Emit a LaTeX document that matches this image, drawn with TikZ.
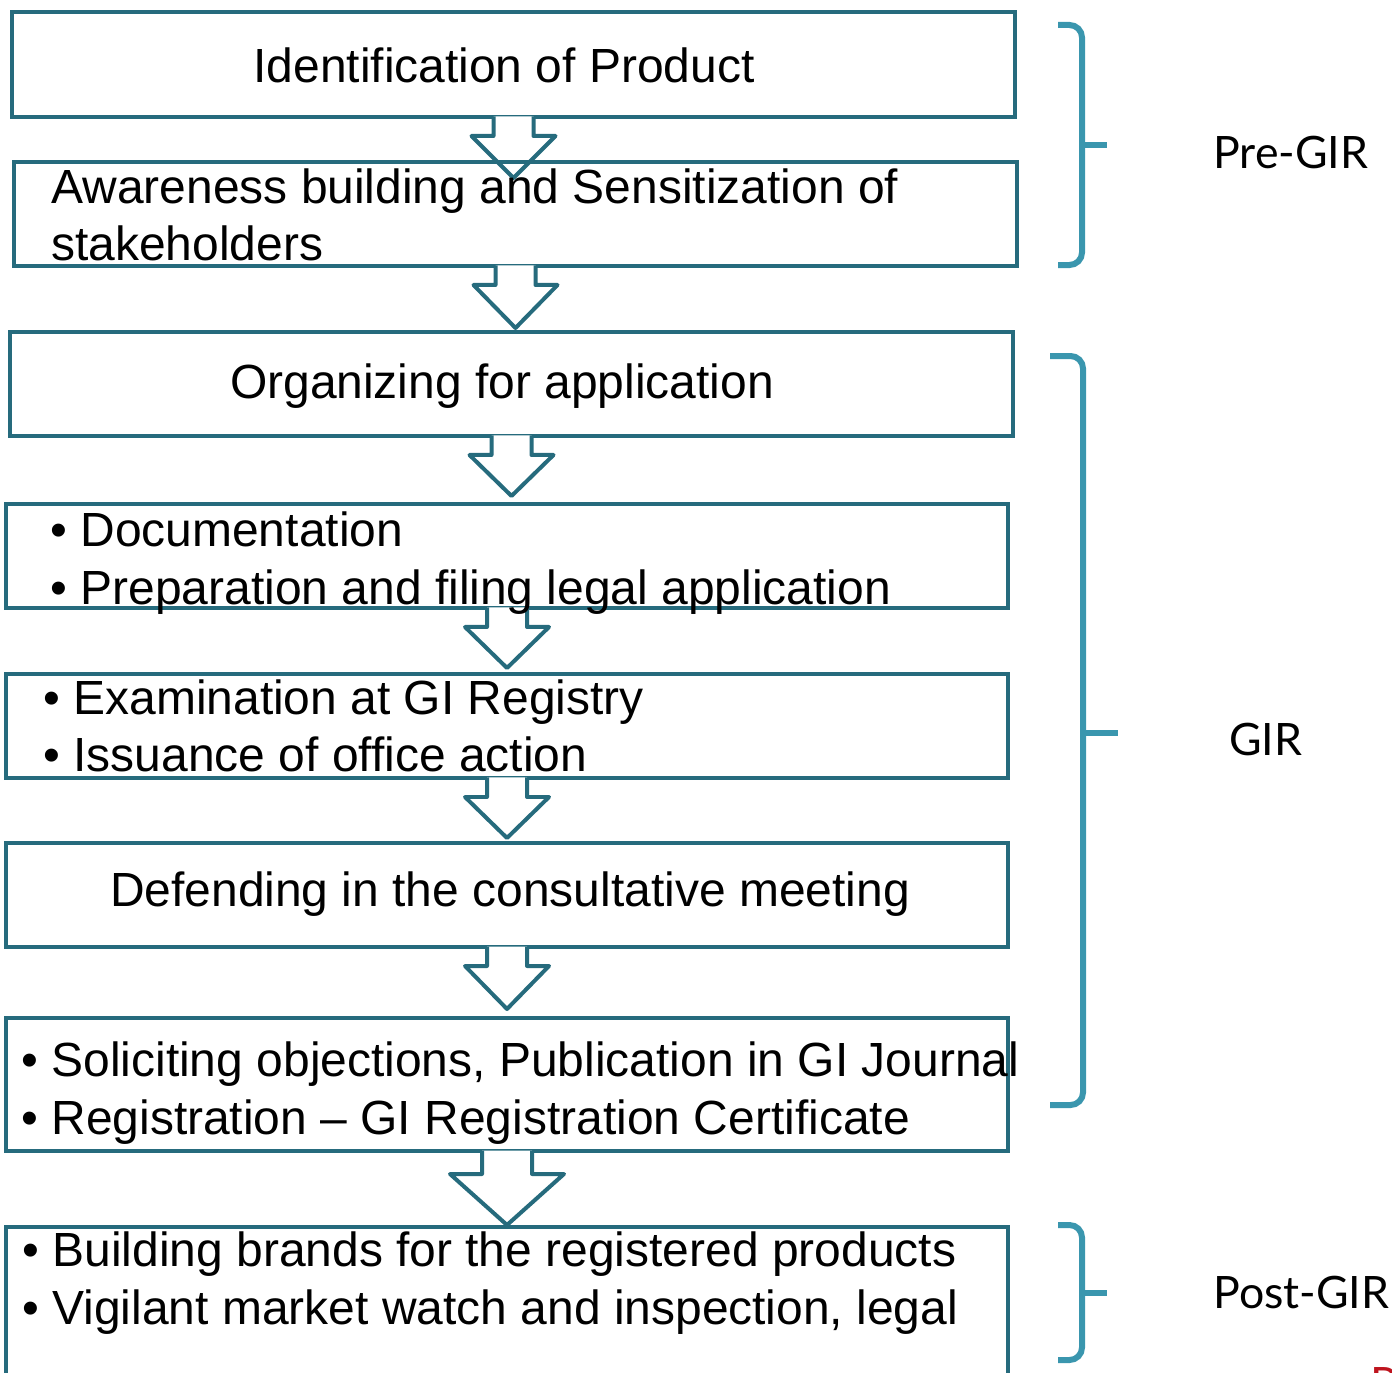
\documentclass[tikz,border=0pt]{standalone}
\usepackage{fontspec}
\usepackage{tikz}
\usetikzlibrary{positioning}

\newfontfamily\boxfont{Liberation Sans}
\newfontfamily\phasefont{Lato}

\definecolor{boxline}{RGB}{38,107,125}
\definecolor{braceline}{RGB}{58,150,174}
\definecolor{pagered}{RGB}{190,20,30}

\tikzset{
  box/.style={draw=boxline, line width=0.08cm, minimum width=20.06cm, minimum height=2.08cm, inner sep=0pt},
  txt/.style={font={\boxfont\fontsize{27.3}{32.6}\selectfont}, inner sep=0pt, align=left},
  brace/.style={draw=braceline, line width=0.12cm, rounded corners=0.25cm},
  phase/.style={font={\phasefont\fontsize{25.4}{29}\selectfont}, inner sep=0pt, anchor=base west},
  % hollow block arrow hanging from a box: stem half width, head half width, shoulder, tip
  pics/flowarrow/.style n args={4}{code={
    \fill[white] (-#1,-2.5) -- (-#1,#3) -- (-#2,#3) -- (0,#4) -- (#2,#3) -- (#1,#3) -- (#1,-2.5) -- cycle;
    \draw[boxline, line width=0.08cm, line join=round] (-#1,-2.5) -- (-#1,#3) -- (-#2,#3) -- (0,#4) -- (#2,#3) -- (#1,#3) -- (#1,-2.5);
  }},
}

\begin{document}
\begin{tikzpicture}[x=0.02cm, y=-0.02cm]
\useasboundingbox (0,0) rectangle (1392,1372);

% process boxes and the arrows between them
\node[box, minimum height=2.1cm] (b1) at (513.5,64.5) {};
\pic at (b1.south) {flowarrow={20}{42}{17}{59}};
\node[box] (b2) at (515.5,214) {};
\pic at (b2.south) {flowarrow={20}{42}{17}{60}};
\node[box] (b3) at (511.5,384) {};
\pic at (b3.south) {flowarrow={20}{42}{17}{58}};
\node[box, minimum width=20.04cm] (b4) at (507,556) {};
\pic at (b4.south) {flowarrow={20}{42}{17}{58}};
\node[box, minimum width=20.04cm] (b5) at (507,726) {};
\pic at (b5.south) {flowarrow={20}{42}{17}{58}};
\node[box, minimum width=20.04cm] (b6) at (507,895) {};
\pic at (b6.south) {flowarrow={20}{42}{17}{60}};
\node[box, minimum width=20.04cm, minimum height=2.66cm] (b7) at (507,1084.5) {};
\pic at (b7.south) {flowarrow={25}{57}{21}{72}};
\node[box, minimum width=20.04cm, minimum height=4.26cm] (b8) at (507,1333.5) {};

% box texts
\node[txt, anchor=base] (t1) at (504,83) {Identification of Product};
\node[txt, anchor=west] (t2) at (51,215) {Awareness building and Sensitization of\\stakeholders};
\node[txt, anchor=base] (t3) at (502,398) {Organizing for application};
\node[txt, anchor=west] (t4) at (50,563) {• Documentation\\• Preparation and filing legal application};
\node[txt, anchor=west] (t5) at (43,726) {• Examination at GI Registry\\• Issuance of office action};
\node[txt, anchor=base] (t6) at (510,906) {Defending in the consultative meeting};
\node[txt, anchor=west] (t7) at (21,1093) {• Soliciting objections, Publication in GI Journal\\• Registration – GI Registration Certificate};
\node[txt, anchor=west] (t8) at (22,1283) {• Building brands for the registered products\\• Vigilant market watch and inspection, legal};

% phase brackets
\draw[brace] (1058,25) -- (1082,25) -- (1082,265) -- (1058,265);
\draw[brace] (1082,145) -- (1107,145);
\draw[brace] (1050,356) -- (1083,356) -- (1083,1105) -- (1050,1105);
\draw[brace] (1083,733) -- (1118,733);
\draw[brace] (1058,1225) -- (1082,1225) -- (1082,1360) -- (1058,1360);
\draw[brace] (1082,1293) -- (1107,1293);

\node[phase] (pre) at (1213,168) {Pre-GIR};
\node[phase] (gir) at (1229,755) {GIR};
\node[phase] (post) at (1213,1308) {Post-GIR};
\node[phase, anchor=north west, text=pagered] (pg) at (1370,1367) {P};

\end{tikzpicture}
\end{document}
